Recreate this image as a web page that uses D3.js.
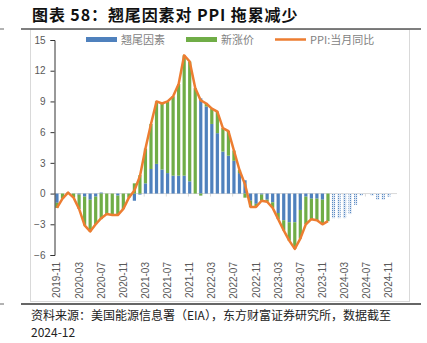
<!DOCTYPE html>
<html>
<head>
<meta charset="utf-8">
<script src="https://cdn.jsdelivr.net/npm/d3@7"></script>
<style>
  body { margin: 0; background: #fff; }
  svg { display: block; font-family: "Noto Sans CJK SC", "Noto Sans", sans-serif; }
</style>
</head>
<body>
<svg id="chart"></svg>
<script>
// months 2019-11 .. 2024-12
const months = d3.range(62).map(i => {
  const m = (10 + i) % 12 + 1, y = 2019 + Math.floor((10 + i) / 12)
  return `${y}-${String(m).padStart(2, '0')}`
})

// 翘尾因素 (through 2024-12, 2024 are forecast / dotted)
const carryover = [
  -0.9, 0.0,
  0.1, 0.0, -0.1, -0.3, -0.6, -0.3, 0.1, 0.0, 0.0, -0.2, 0.0, 0.0,
  -0.7, -0.1, 1.0, 2.4, 2.9, 2.35, 2.0, 1.75, 1.75, 1.75, 1.2, 0.0,
  9.3, 8.5, 6.8, 5.9, 4.1, 3.7, 3.2, 2.0, 1.3, -0.7, -1.0, -0.1,
  -0.6, -0.85, -1.9, -2.6, -2.8, -2.8, -1.6, -0.3, -0.5, -0.5, -0.6, 0.0,
  -2.4, -2.4, -2.4, -2.0, -1.1, -0.2, 0.0, -0.2, -0.6, -0.6, -0.3, 0.0
]

// 新涨价 (through 2023-12)
const newPrice = [
  -0.5, -0.5,
  0.0, -0.4, -1.4, -2.8, -3.1, -2.7, -2.5, -2.0, -2.1, -1.9, -1.5, -0.4,
  1.0, 1.8, 3.4, 4.4, 6.1, 6.45, 7.0, 7.75, 8.95, 11.75, 11.7, 10.3,
  -0.2, 0.3, 1.5, 2.1, 2.3, 2.4, 1.0, 0.3, -0.4, -0.6, -0.3, -0.6,
  -0.2, -0.55, -0.6, -1.0, -1.8, -2.6, -2.8, -2.7, -2.0, -2.1, -2.4, -2.7
]

// PPI:当月同比 (through 2023-12)
const ppi = [
  -1.4, -0.5,
  0.1, -0.4, -1.5, -3.1, -3.7, -3.0, -2.4, -2.0, -2.1, -2.1, -1.5, -0.4,
  0.3, 1.7, 4.4, 6.8, 9.0, 8.8, 9.0, 9.5, 10.7, 13.5, 12.9, 10.3,
  9.1, 8.8, 8.3, 8.0, 6.4, 6.1, 4.2, 2.3, 0.9, -1.3, -1.3, -0.7,
  -0.8, -1.4, -2.5, -3.6, -4.6, -5.4, -4.4, -3.0, -2.5, -2.6, -3.0, -2.7
]

const yTicks = [-6, -3, 0, 3, 6, 9, 12, 15]
const forecastFrom = 50 // 2024-01

const width = 427, height = 343
const svg = d3.select('#chart').attr('width', width).attr('height', height)

// title + frame
svg.append('text')
  .attr('x', 32).attr('y', 21)
  .attr('font-size', 16).attr('font-weight', 'bold').attr('fill', '#111')
  .attr('letter-spacing', 0.9)
  .text('图表 58：翘尾因素对 PPI 拖累减少')

svg.append('rect')
  .attr('x', 30.5).attr('y', 29.5).attr('width', 379).attr('height', 272)
  .attr('fill', 'none').attr('stroke', '#d9d9d9')

svg.append('line').attr('x1', 21).attr('x2', 421).attr('y1', 29).attr('y2', 29)
  .attr('stroke', '#555').attr('stroke-width', 1.3)
svg.append('line').attr('x1', 21).attr('x2', 421).attr('y1', 304).attr('y2', 304)
  .attr('stroke', '#333').attr('stroke-width', 1.3)
svg.append('line').attr('x1', 0).attr('x2', 4).attr('y1', 29).attr('y2', 29).attr('stroke', '#666')
svg.append('line').attr('x1', 0).attr('x2', 4).attr('y1', 304).attr('y2', 304).attr('stroke', '#666')

// source
svg.append('text').attr('x', 31).attr('y', 320)
  .attr('font-size', 12).attr('fill', '#222')
  .text('资料来源：美国能源信息署（EIA），东方财富证券研究所，数据截至')
svg.append('text').attr('x', 31).attr('y', 337)
  .attr('font-size', 12).attr('fill', '#222')
  .text('2024-12')

// scales
const xScale = d3.scaleBand().domain(months).range([54.2, 397.1]).paddingInner(0.42).paddingOuter(0.21)
const yScale = d3.scaleLinear().domain([-6, 15]).range([255, 40])

// pattern for forecast bars
const defs = svg.append('defs')
const pat = defs.append('pattern').attr('id', 'dots')
  .attr('width', 2).attr('height', 2).attr('patternUnits', 'userSpaceOnUse')
pat.append('rect').attr('width', 2).attr('height', 2).attr('fill', '#dce6f2')
pat.append('rect').attr('width', 1).attr('height', 1).attr('fill', '#5b8ac4')

// zero line
svg.append('line')
  .attr('x1', 54).attr('x2', 397)
  .attr('y1', yScale(0)).attr('y2', yScale(0))
  .attr('stroke', '#d9d9d9')

svg.selectAll('xTicks')
  .data(months.filter((d, i) => i % 4 === 0))
  .enter()
  .append('line')
    .attr('x1', d => xScale(d) - xScale.step() * xScale.paddingInner() / 2 + 1.5)
    .attr('x2', d => xScale(d) - xScale.step() * xScale.paddingInner() / 2 + 1.5)
    .attr('y1', yScale(0)).attr('y2', yScale(0) + 3)
    .attr('stroke', '#d9d9d9')

// stacked bars (positives and negatives stack apart)
const rows = months.map((m, i) => ({ month: m, i: i, blue: carryover[i], green: i < newPrice.length ? newPrice[i] : 0 }))
const series = d3.stack().keys(['blue', 'green']).offset(d3.stackOffsetDiverging)(rows)
const colors = { blue: '#4f81bd', green: '#70ad47' }

series.forEach(s => {
  svg.selectAll('bars-' + s.key)
    .data(s)
    .enter()
    .append('rect')
      .attr('x', d => xScale(d.data.month))
      .attr('width', xScale.bandwidth())
      .attr('y', d => yScale(Math.max(d[0], d[1])))
      .attr('height', d => Math.abs(yScale(d[0]) - yScale(d[1])))
      .attr('fill', d => (s.key === 'blue' && d.data.i >= forecastFrom) ? 'url(#dots)' : colors[s.key])
})

// PPI line
const line = d3.line()
  .x((d, i) => xScale(months[i]) + xScale.bandwidth() / 2)
  .y(d => yScale(d))
svg.append('path')
  .datum(ppi)
  .attr('d', line)
  .attr('fill', 'none')
  .attr('stroke', '#ed7d31')
  .attr('stroke-width', 2.5)
  .attr('stroke-linejoin', 'round')

// y axis
const yAxis = d3.axisLeft(yScale).tickValues(yTicks).tickSize(4).tickPadding(5)
const gy = svg.append('g').attr('transform', 'translate(54.5,0)').call(yAxis)
gy.select('.domain').attr('stroke', '#333')
gy.selectAll('.tick line').attr('stroke', '#333')
gy.selectAll('text').attr('font-size', 10).attr('fill', '#595959').attr('font-family', 'Liberation Sans, Arial, sans-serif')

// x labels (rotated, at bottom)
svg.selectAll('xLabels')
  .data(months.filter((d, i) => i % 4 === 0))
  .enter()
  .append('text')
    .attr('transform', d => `translate(${xScale(d) + xScale.bandwidth() / 2 + 3.5},262) rotate(-90)`)
    .attr('text-anchor', 'end')
    .attr('font-size', 10)
    .attr('fill', '#595959')
    .attr('font-family', 'Liberation Sans, Arial, sans-serif')
    .text(d => d)

// legend
const legend = [
  { label: '翘尾因素', color: '#4f81bd', x: 86, type: 'rect' },
  { label: '新涨价', color: '#70ad47', x: 186, type: 'rect' },
  { label: 'PPI:当月同比', color: '#ed7d31', x: 275, type: 'line' }
]
const lg = svg.selectAll('legend').data(legend).enter().append('g')
lg.filter(d => d.type === 'rect').append('rect')
  .attr('x', d => d.x).attr('y', 37).attr('width', 31).attr('height', 5)
  .attr('fill', d => d.color)
lg.filter(d => d.type === 'line').append('line')
  .attr('x1', d => d.x).attr('x2', d => d.x + 31).attr('y1', 39.5).attr('y2', 39.5)
  .attr('stroke', d => d.color).attr('stroke-width', 2.5)
lg.append('text')
  .attr('x', d => d.x + 35).attr('y', 44)
  .attr('font-size', 11).attr('fill', '#7f7f7f')
  .text(d => d.label)
</script>
</body>
</html>
